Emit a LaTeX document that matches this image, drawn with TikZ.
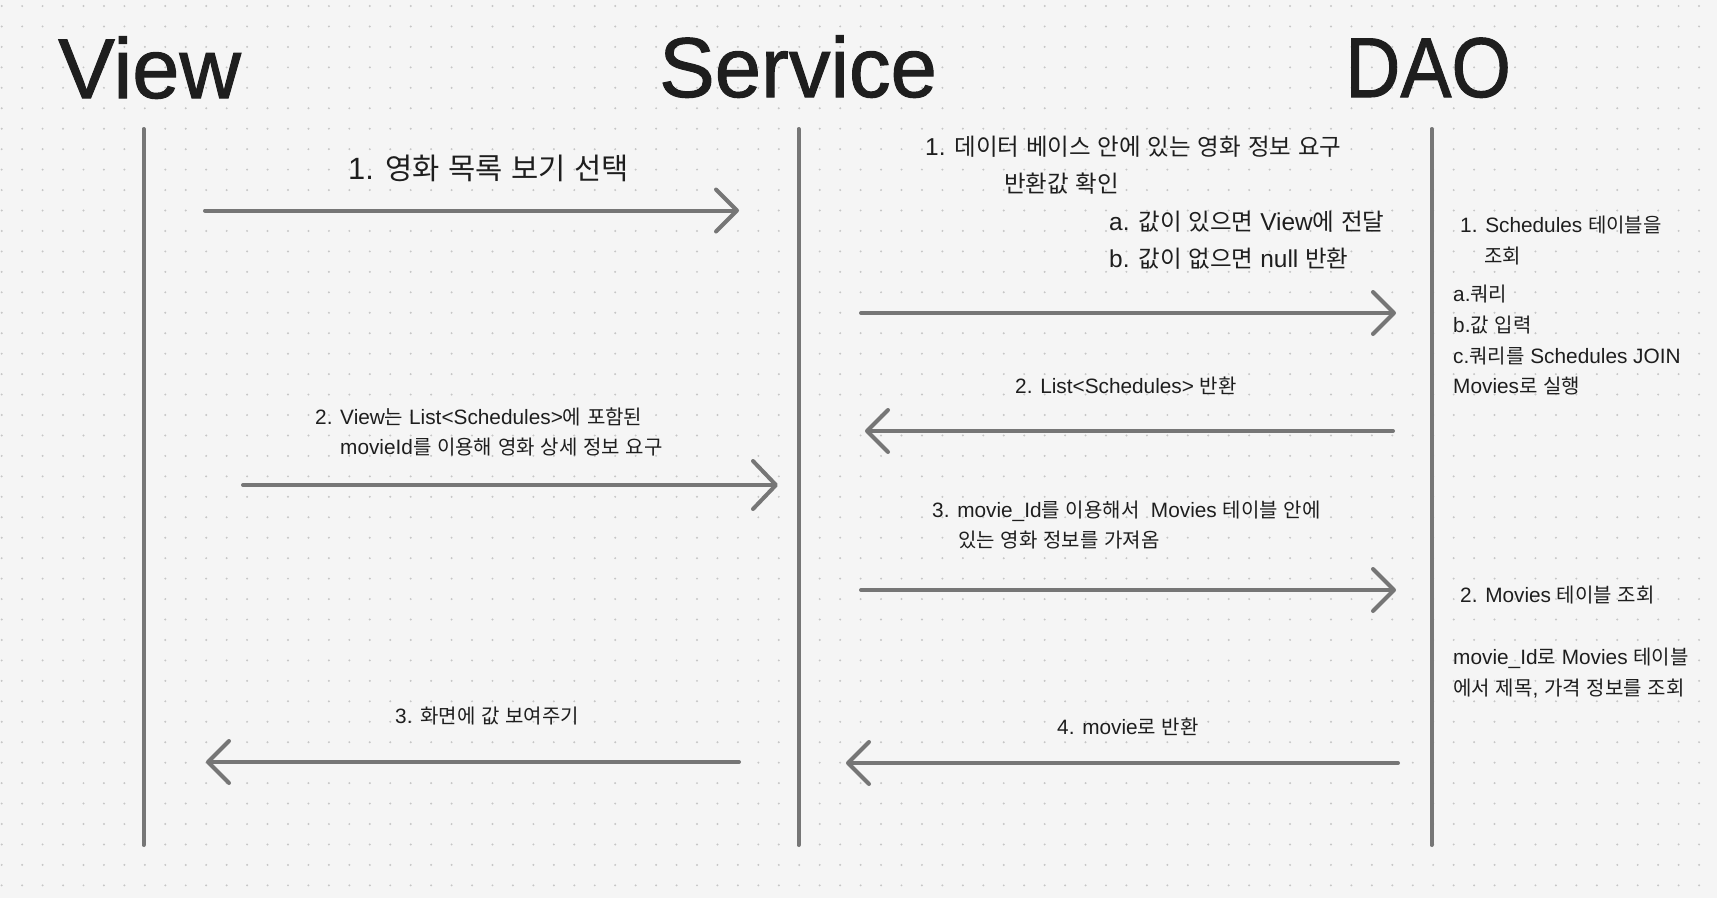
\documentclass[tikz,border=0pt]{standalone}
\usepackage{fontspec}
\setmainfont{Liberation Sans}[Scale=1.04]
\newfontfamily\krfont{Noto Sans CJK KR}
\newfontfamily\lafont{Liberation Sans}[Scale=1.04]
\newfontfamily\titlefont{Liberation Sans}[FakeBold=1.2]
\usetikzlibrary{arrows.meta}
\XeTeXinterchartokenstate=1
\newXeTeXintercharclass\krclass
\newcount\kcnt
\kcnt="AC00
\loop
  \XeTeXcharclass\kcnt=\krclass
  \advance\kcnt by 1
\ifnum\kcnt<"D7A4 \repeat
\XeTeXinterchartoks 0 \krclass = {\krfont}
\XeTeXinterchartoks 4095 \krclass = {\krfont}
\XeTeXinterchartoks \krclass 0 = {\lafont}
\XeTeXinterchartoks \krclass 4095 = {\lafont}
\definecolor{bgc}{HTML}{F5F5F5}
\definecolor{dotc}{HTML}{C6C6C6}
\definecolor{linec}{HTML}{767676}
\definecolor{txtc}{HTML}{1E1E1E}
\begin{document}
\begin{tikzpicture}[x=1pt,y=-1pt,
  life/.style={line width=4pt, draw=linec, line cap=round},
  msg/.style={line width=4pt, draw=linec, line cap=round, -{Straight Barb[length=21pt, width=42pt, round]}},
  msgbig/.style={msg, -{Straight Barb[length=23pt, width=48pt, round]}},
  title/.style={inner sep=0pt, anchor=base west, text=txtc, font=\titlefont\fontsize{85}{90}\selectfont},
  lbl/.style={inner sep=0pt, anchor=base west, text=txtc, font=\fontsize{20}{24}\selectfont},
  lblm/.style={lbl, font=\fontsize{23.5}{28}\selectfont},
  lblb/.style={lbl, font=\fontsize{29.6}{34}\selectfont},
  dotrow/.style={line width=2.2pt, draw=dotc, line cap=round, dash pattern=on 0pt off 20.45pt}
]
\useasboundingbox (0,0) rectangle (1717,898);
\fill[bgc] (0,0) rectangle (1717,898);
\foreach \r in {0,...,43} {
  \draw[dotrow] (1.7,{6+20.45*\r}) -- (1717,{6+20.45*\r});
}
% titles
\node[title] (tview) at (58,98) {View};
\node[title] (tservice) at (659,97) {\scalebox{0.98}[1]{Service}};
\node[title] (tdao) at (1345,97) {\scalebox{0.9}[1]{DAO}};
% lifelines
\coordinate (vtop) at (143.5,129); \coordinate (vbot) at (143.5,845);
\coordinate (stop) at (798.5,129); \coordinate (sbot) at (798.5,845);
\coordinate (dtop) at (1431.5,129); \coordinate (dbot) at (1431.5,845);
\draw[life] (vtop) -- (vbot);
\draw[life] (stop) -- (sbot);
\draw[life] (dtop) -- (dbot);
% messages left
\coordinate (m1s) at (205,210.5); \coordinate (m1e) at (739,210.5);
\coordinate (m2s) at (243,485); \coordinate (m2e) at (778,485);
\coordinate (m3s) at (739,762); \coordinate (m3e) at (206,762);
\draw[msg] (m1s) -- (m1e);
\draw[msgbig] (m2s) -- (m2e);
\draw[msg] (m3s) -- (m3e);
% messages right
\coordinate (r1s) at (861,313); \coordinate (r1e) at (1396,313);
\coordinate (r2s) at (1393,431); \coordinate (r2e) at (865,431);
\coordinate (r3s) at (861,590); \coordinate (r3e) at (1396,590);
\coordinate (r4s) at (1398,763); \coordinate (r4e) at (846,763);
\draw[msg] (r1s) -- (r1e);
\draw[msg] (r2s) -- (r2e);
\draw[msg] (r3s) -- (r3e);
\draw[msg] (r4s) -- (r4e);
% left labels
\node[lblb] (l1) at (348,179) {1. 영화 목록 보기 선택};
\node[lbl] (l2a) at (315,424) {2. View는 List<Schedules>에 포함된};
\node[lbl] (l2b) at (340,454) {movieId를 이용해 영화 상세 정보 요구};
\node[lbl] (l3) at (395,723) {3. 화면에 값 보여주기};
% middle-right labels
\node[lblm] (k1a) at (925,155.5) {1. 데이터 베이스 안에 있는 영화 정보 요구};
\node[lblm] (k1b) at (1004,192) {반환값 확인};
\node[lblm] (k1c) at (1109,230.5) {a. 값이 있으면 View에 전달};
\node[lblm] (k1d) at (1109,267.5) {b. 값이 없으면 null 반환};
\node[lbl] (k2) at (1015,393) {2. List<Schedules> 반환};
\node[lbl] (k3a) at (932,517) {3. movie\_Id를 이용해서\ \ Movies 테이블 안에};
\node[lbl] (k3b) at (958,547) {있는 영화 정보를 가져옴};
\node[lbl] (k4) at (1057,734.5) {4. movie로 반환};
% DAO notes
\node[lbl] (d1) at (1460,232) {1. Schedules 테이블을};
\node[lbl] (d2) at (1484,263) {조회};
\node[lbl] (d3) at (1453,301) {a.쿼리};
\node[lbl] (d4) at (1453,332) {b.값 입력};
\node[lbl] (d5) at (1453,363) {c.쿼리를 Schedules JOIN};
\node[lbl] (d6) at (1453,393) {Movies로 실행};
\node[lbl] (d7) at (1460,602) {2. Movies 테이블 조회};
\node[lbl] (d8) at (1453,664.5) {movie\_Id로 Movies 테이블};
\node[lbl] (d9) at (1453,695.5) {에서 제목, 가격 정보를 조회};
\end{tikzpicture}
\end{document}
